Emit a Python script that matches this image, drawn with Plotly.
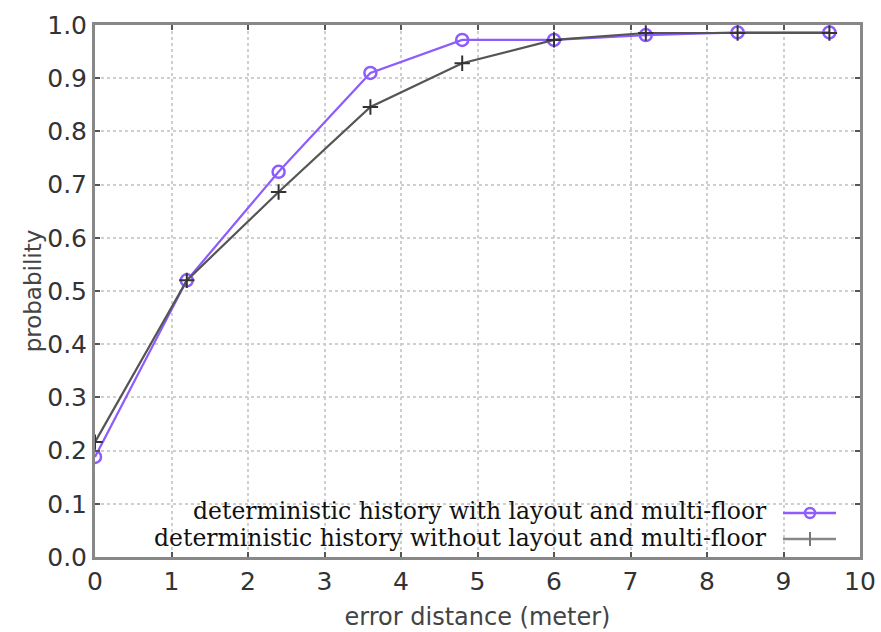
import plotly.graph_objects as go

# ---- data ----
error_distance = [0, 1.2, 2.4, 3.6, 4.8, 6.0, 7.2, 8.4, 9.6]
with_layout = [0.188, 0.52, 0.724, 0.91, 0.972, 0.972, 0.981, 0.986, 0.986]
without_layout = [0.216, 0.52, 0.686, 0.846, 0.928, 0.972, 0.985, 0.985, 0.985]
series_names = [
    "deterministic history with layout and multi-floor",
    "deterministic history without layout and multi-floor",
]
x_ticks = list(range(0, 11))
y_ticks = [round(i * 0.1, 1) for i in range(0, 11)]
y_tick_labels = [f"{v:.1f}" for v in y_ticks]

PURPLE = "#8c5cff"
DARK = "#555555"

fig = go.Figure()
fig.add_trace(go.Scatter(
    x=error_distance, y=with_layout, mode="lines+markers", name=series_names[0],
    line=dict(color=PURPLE, width=2.2),
    marker=dict(symbol="circle-open", size=12, color=PURPLE, line=dict(width=2.5, color=PURPLE)),
    showlegend=False,
))
fig.add_trace(go.Scatter(
    x=error_distance, y=without_layout, mode="lines+markers", name=series_names[1],
    line=dict(color=DARK, width=2.2),
    marker=dict(symbol="cross-thin-open", size=11, color="#333333", line=dict(width=2, color="#333333")),
    showlegend=False,
))

W, H = 881, 632
# plot area in screen pixels: left 95, right 860, top 25, bottom 557
L, T = 95, 25
R, B = W - 860, H - 557
pw, ph = W - L - R, H - T - B

def px(xs):
    return (xs - L) / pw

def py(ys):
    return 1 - (ys - T) / ph

shapes = []
# white legend box covering the grid
shapes.append(dict(type="rect", xref="paper", yref="paper", layer="between",
                   x0=px(145), x1=px(858), y0=py(556), y1=py(497),
                   fillcolor="white", line=dict(width=0)))
# legend samples
for yy, col in [(513, PURPLE), (539, "#888888")]:
    shapes.append(dict(type="line", xref="paper", yref="paper", layer="above",
                       x0=px(783), x1=px(836), y0=py(yy), y1=py(yy),
                       line=dict(color=col, width=2.5)))
# purple circle sample
shapes.append(dict(type="circle", xref="paper", yref="paper", layer="above",
                   x0=px(805), x1=px(815), y0=py(518), y1=py(508),
                   line=dict(color=PURPLE, width=2.5)))
# plus sample
shapes.append(dict(type="line", xref="paper", yref="paper", layer="above",
                   x0=px(810), x1=px(810), y0=py(546), y1=py(532),
                   line=dict(color="#777777", width=2)))

annotations = []
for yy, name in [(511, series_names[0]), (538, series_names[1])]:
    annotations.append(dict(
        xref="paper", yref="paper", x=px(769), y=py(yy), xanchor="right", yanchor="middle",
        text=name, showarrow=False,
        font=dict(family="DejaVu Serif", size=23.5, color="#111111"),
    ))

axis_common = dict(
    showline=True, mirror="allticks", linecolor="#888888", linewidth=3,
    ticks="inside", ticklen=5, tickcolor="#555555", tickwidth=2,
    showgrid=True, gridcolor="#cfcfcf", griddash="dot", gridwidth=2,
    zeroline=False, automargin=False, ticklabeloverflow="allow",
    tickfont=dict(family="DejaVu Sans", size=25, color="#333333"),
)

fig.update_layout(
    width=W, height=H,
    margin=dict(l=L, r=R, t=T, b=B),
    paper_bgcolor="white", plot_bgcolor="white",
    xaxis=dict(range=[0, 10], tickvals=x_ticks, ticktext=[str(v) for v in x_ticks],
               title=dict(text="error distance (meter)", standoff=14,
                          font=dict(family="DejaVu Sans", size=24, color="#444444")),
               **axis_common),
    yaxis=dict(range=[0, 1.0], tickvals=y_ticks, ticktext=y_tick_labels,
               title=dict(text="probability", standoff=0,
                          font=dict(family="DejaVu Sans", size=23, color="#444444")),
               **axis_common),
    shapes=shapes,
    annotations=annotations,
    showlegend=False,
)

fig.write_html(
    "out.html",
    config={"displayModeBar": False},
    post_script="document.body.style.margin='0px';document.body.style.overflow='hidden';",
)
